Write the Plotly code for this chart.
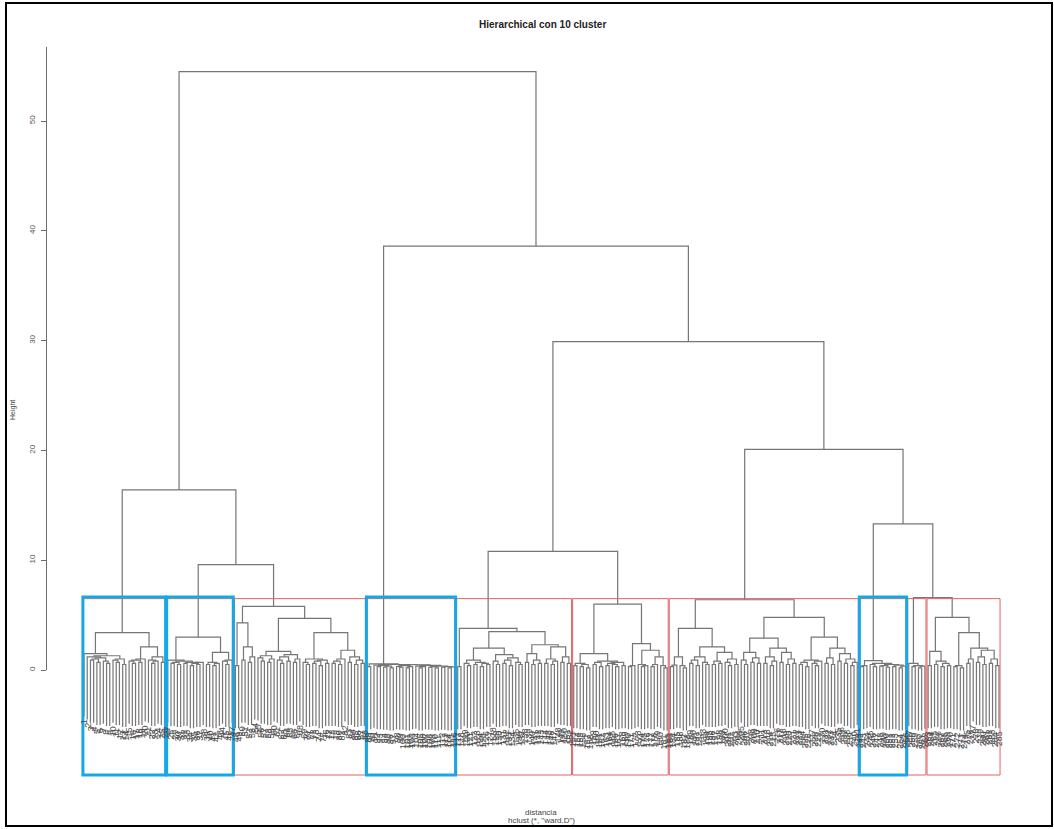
import plotly.graph_objects as go

# ---- text ----
TITLE = "Hierarchical con 10 cluster"
X_TITLE = "distancia"
SUB_TITLE = 'hclust (*, "ward.D")'
Y_TITLE = "Height"

# ---- data: merge heights between neighbouring leaves, in leaf order ----
# cluster 1
gaps_a = [1.5, 1.2, 0.9, 1.0, 0.7, 1.1, 0.8, 0.6, 1.3, 0.9, 0.7, 1.0, 0.5,
          3.4,
          0.8, 0.6, 0.9, 0.7, 1.0, 2.1, 0.9, 0.6, 0.8, 1.2, 0.7]
# cluster 2
gaps_b = [0.9, 0.6, 0.7, 0.5, 0.8, 0.6, 0.7, 0.4, 0.6, 0.5, 0.7,
          3.0,
          0.5, 0.7, 0.4, 0.6, 1.6, 0.8, 0.5, 0.9]
# cluster 3
gaps_c = [0.4, 4.3, 0.9, 2.1, 0.7, 1.2,
          5.8,
          1.1, 0.8, 1.3, 0.7, 1.0, 1.7, 0.9, 0.6, 1.2, 0.8, 1.4, 0.7, 1.0,
          4.7,
          0.7, 0.5, 1.0, 0.6, 0.8, 0.4, 0.9, 0.6,
          3.4,
          0.6, 0.8, 0.5, 1.0, 1.8, 0.7, 1.2, 0.5, 0.9, 0.6]
# cluster 4
gaps_d = [0.3, 0.55, 0.45, 0.3, 0.4, 0.25, 0.35, 0.2, 0.5, 0.3, 0.25, 0.4, 0.2,
          0.3, 0.48, 0.35, 0.2, 0.3, 0.42, 0.25, 0.3, 0.2, 0.35, 0.25, 0.3, 0.2, 0.28]
# cluster 5
gaps_e = [0.3,
          3.8,
          0.6, 0.4, 0.9, 0.5, 0.7, 0.3, 0.6, 0.5,
          2.0,
          0.8, 0.5, 1.4, 0.6, 0.9, 0.4, 1.1, 0.7, 0.5,
          3.5,
          0.7, 1.5, 0.5, 0.9, 0.6,
          2.3,
          0.6, 1.0, 0.5, 0.8, 2.1, 0.7, 1.2, 0.6]
# cluster 6
gaps_f = [0.4, 0.6, 0.3, 0.5, 0.2,
          1.5,
          0.5, 0.7, 0.3, 0.8, 0.4, 0.6, 0.5, 0.3, 0.7, 0.4,
          6.0,
          0.3, 0.4, 2.4, 0.5, 0.3, 0.4, 1.8, 0.3, 0.5, 1.2, 0.4, 0.2]
# cluster 7
gaps_g = [0.3, 0.45, 1.2, 0.4, 0.2,
          3.8,
          0.6, 0.9, 0.4, 1.2, 0.7, 0.5, 2.1, 0.5, 0.8, 0.6, 1.6, 0.7, 0.4, 1.0, 0.5,
          6.4,
          0.9, 0.5, 1.6, 0.7, 1.1, 0.6, 2.9, 0.6, 1.2, 0.4, 0.8, 2.0, 0.7, 1.6, 0.5, 1.0, 0.6,
          4.8,
          0.5, 0.7, 0.3, 0.9, 0.6, 0.4, 0.8, 3.0, 0.6, 1.1, 0.5, 2.0, 0.8, 1.5, 0.6, 1.0, 0.4, 0.7]
# cluster 8
gaps_h = [0.3, 0.4, 0.85, 0.5, 0.3, 0.6, 0.35, 0.4, 0.25, 0.5, 0.3, 0.45, 0.2, 0.35]
# cluster 9
gaps_i = [0.6, 0.3, 0.4, 0.2, 0.35]
# cluster 10
gaps_j = [0.4, 1.7, 0.5, 0.8, 0.3, 0.6, 0.4,
          4.8,
          0.3, 0.4, 0.2, 3.4, 0.6, 1.0, 2.0, 0.7, 1.2, 0.5, 1.8, 0.6, 1.0, 0.4]

# merge heights joining consecutive clusters
between_clusters = [16.4, 9.6, 54.5, 38.6, 10.8, 29.9, 20.1, 13.3, 6.6]
cut_height = 6.5
highlighted = [0, 1, 3, 7]          # clusters outlined in blue
y_ticks = [0, 10, 20, 30, 40, 50]
axis_top = 56.7
hang_fraction = 0.105

cluster_gaps = [gaps_a, gaps_b, gaps_c, gaps_d, gaps_e,
                gaps_f, gaps_g, gaps_h, gaps_i, gaps_j]

# ---- assemble leaf order ----
gaps_all, sizes = [], []
for i, g in enumerate(cluster_gaps):
    gaps_all.extend(g)
    sizes.append(len(g) + 1)
    if i < len(between_clusters):
        gaps_all.append(between_clusters[i])
n_leaves = len(gaps_all) + 1
hang = hang_fraction * (max(gaps_all) - min(gaps_all))

seg_x, seg_y = [], []
leaf_bottom = {}


def build(lo, hi):
    """Split leaves lo..hi at their highest merge; returns (x, height)."""
    if lo == hi:
        return lo + 1, None
    k = max(range(lo, hi), key=lambda j: gaps_all[j])
    h = gaps_all[k]
    lx, lh = build(lo, k)
    rx, rh = build(k + 1, hi)
    if lh is None:
        lb = h - hang
        leaf_bottom[lx] = lb
    else:
        lb = lh
    if rh is None:
        rb = h - hang
        leaf_bottom[rx] = rb
    else:
        rb = rh
    seg_x.extend([lx, lx, rx, rx, None])
    seg_y.extend([lb, h, h, rb, None])
    return (lx + rx) / 2, h


build(0, n_leaves - 1)

# ---- page geometry (pixels) ----
W, H = 1054, 829
L, R, T, B = 47, 1040, 40, 790
ZERO_PX, PX_PER_UNIT = 670, 10.98
FIRST_PX, LAST_PX = 84, 999

y_lo = (ZERO_PX - B) / PX_PER_UNIT
y_hi = (ZERO_PX - T) / PX_PER_UNIT
px_per_leaf = (LAST_PX - FIRST_PX) / (n_leaves - 1)
x_lo = 1 - (FIRST_PX - L) / px_per_leaf
x_hi = n_leaves + (R - LAST_PX) / px_per_leaf


def fx(px):
    return (px - L) / (R - L)


def fy(py):
    return (B - py) / (B - T)


def fh(h):
    return (h - y_lo) / (y_hi - y_lo)


fig = go.Figure()
fig.add_trace(go.Scatter(x=seg_x, y=seg_y, mode="lines",
                         line=dict(color="#767676", width=1.2),
                         hoverinfo="skip", showlegend=False))
# carrier for the height axis
fig.add_trace(go.Scatter(x=[None], y=[None], yaxis="y2", showlegend=False,
                         hoverinfo="skip"))

# cluster rectangles (rect.hclust style)
shapes = []
start = 1
boxes = []
for s in sizes:
    boxes.append((start - 0.34, start + s - 1 + 0.33))
    start += s
box_bottom = y_lo + (B - 775) / PX_PER_UNIT
for x0, x1 in boxes:
    shapes.append(dict(type="rect", xref="x", yref="y", x0=x0, x1=x1,
                       y0=box_bottom, y1=cut_height,
                       line=dict(color="#e46262", width=1)))
for idx in highlighted:
    x0, x1 = boxes[idx]
    shapes.append(dict(type="rect", xref="x", yref="y", x0=x0, x1=x1,
                       y0=box_bottom, y1=cut_height + 0.15,
                       line=dict(color="#16a7e6", width=3)))
# outer frame
shapes.append(dict(type="rect", xref="paper", yref="paper",
                   x0=fx(6), x1=fx(1052), y0=fy(826), y1=fy(3),
                   line=dict(color="black", width=2)))

annotations = [
    dict(text="<b>" + TITLE + "</b>", x=fx(542), y=fy(25), xref="paper", yref="paper",
         xanchor="center", yanchor="middle",
         showarrow=False, font=dict(size=10, color="#222")),
    dict(text=X_TITLE, x=fx(541), y=fy(812), xref="paper", yref="paper",
         xanchor="center", yanchor="middle",
         showarrow=False, font=dict(size=8, color="#444")),
    dict(text=SUB_TITLE, x=fx(541), y=fy(821), xref="paper", yref="paper",
         xanchor="center", yanchor="middle",
         showarrow=False, font=dict(size=8, color="#444")),
    dict(text=Y_TITLE, x=fx(13), y=fy(410), xref="paper", yref="paper",
         xanchor="center", yanchor="middle",
         showarrow=False, textangle=-90, font=dict(size=7, color="#444")),
]

# leaf labels (observation numbers), hanging under each leaf
for pos in range(1, n_leaves + 1):
    annotations.append(dict(text=str(pos), x=pos, y=leaf_bottom[pos] - 0.15,
                            xref="x", yref="y", showarrow=False, textangle=-90,
                            xanchor="center", yanchor="top",
                            font=dict(size=9, color="#4a4a4a")))

fig.update_layout(
    width=W, height=H,
    margin=dict(l=L, r=W - R, t=T, b=H - B),
    paper_bgcolor="white", plot_bgcolor="rgba(0,0,0,0)",
    font=dict(family="Liberation Sans, Arial, sans-serif"),
    xaxis=dict(range=[x_lo, x_hi], visible=False),
    yaxis=dict(range=[y_lo, y_hi], visible=False),
    yaxis2=dict(domain=[fh(0), fh(axis_top)], range=[0, axis_top], anchor="x",
                side="left", showline=True, linecolor="#6b6b6b", linewidth=1,
                ticks="outside", ticklen=5, tickcolor="#6b6b6b",
                tickvals=y_ticks, tickangle=-90, ticklabelstandoff=3,
                tickfont=dict(size=8, color="#555"),
                showgrid=False, zeroline=False),
    shapes=shapes, annotations=annotations,
)

fig.write_html("out.html")
